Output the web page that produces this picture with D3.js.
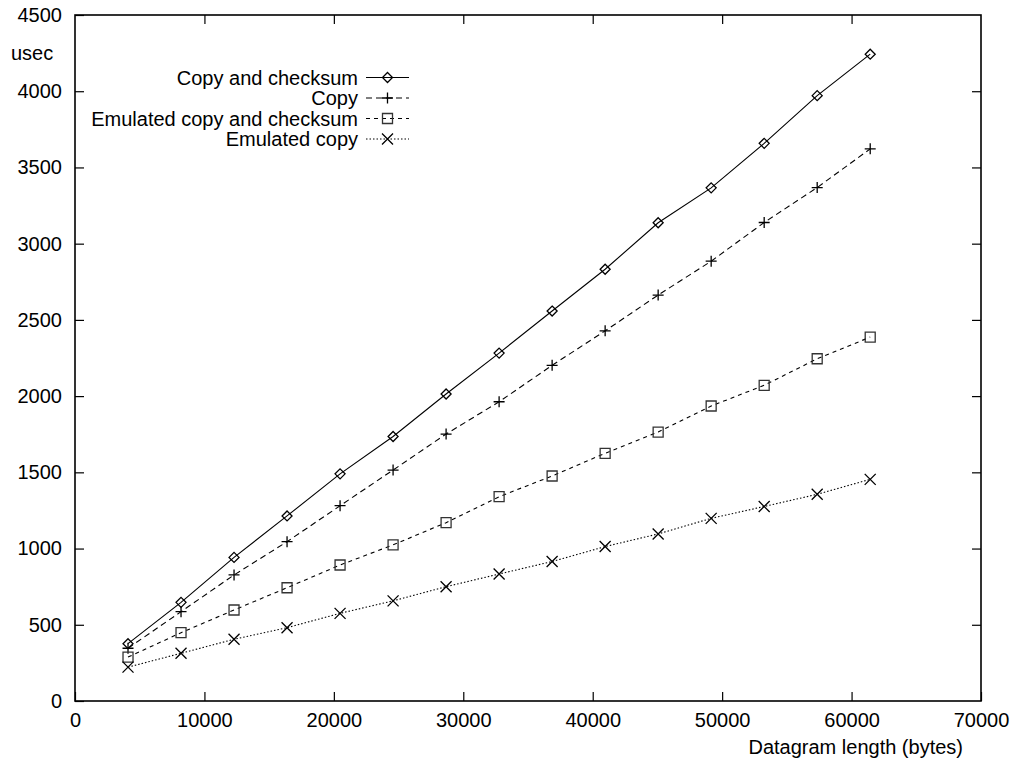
<!DOCTYPE html>
<html>
<head>
<meta charset="utf-8">
<script src="https://cdn.jsdelivr.net/npm/d3@7/dist/d3.min.js"></script>
<style>
  html, body { margin: 0; padding: 0; background: #fff; }
  svg { display: block; }
  text { font-family: "Liberation Sans", Arial, Helvetica, sans-serif; font-size: 20px; fill: #000; }
</style>
</head>
<body>
<svg id="chart" width="1011" height="762"></svg>
<script>
// Datagram sizes (bytes)
const lengths = [4096, 8192, 12288, 16384, 20480, 24576, 28672, 32768, 36864, 40960, 45056, 49152, 53248, 57344, 61440];

// Processing time (usec) per series
const copyAndChecksum = [376, 647, 942, 1214, 1490, 1735, 2014, 2282, 2558, 2832, 3137, 3366, 3658, 3971, 4243];
const copyOnly        = [346, 586, 827, 1045, 1281, 1515, 1751, 1963, 2202, 2428, 2663, 2885, 3139, 3368, 3622];
const emulatedCopyCk  = [288, 448, 597, 743, 892, 1024, 1170, 1340, 1476, 1625, 1764, 1935, 2071, 2245, 2387];
const emulatedCopy    = [222, 313, 405, 481, 575, 657, 750, 833, 915, 1013, 1096, 1198, 1276, 1356, 1454];

const seriesNames = ["Copy and checksum", "Copy", "Emulated copy and checksum", "Emulated copy"];

const xTicks = [0, 10000, 20000, 30000, 40000, 50000, 60000, 70000];
const yTicks = [0, 500, 1000, 1500, 2000, 2500, 3000, 3500, 4000, 4500];

const xLabel = "Datagram length (bytes)";
const yLabel = "usec";

// ---- layout ----
const plot = { left: 75, right: 981, top: 15, bottom: 701 };
const svg = d3.select("#chart");

const x = d3.scaleLinear().domain([0, 70000]).range([plot.left, plot.right]);
const y = d3.scaleLinear().domain([0, 4500]).range([plot.bottom, plot.top]);

const tickLen = 9;

// bottom axis with labels
const gx = svg.append("g").attr("transform", `translate(0,${plot.bottom})`)
  .call(d3.axisBottom(x).tickValues(xTicks).tickFormat(d3.format("d"))
    .tickSizeInner(-tickLen).tickSizeOuter(0).tickPadding(12));
// left axis with labels
const gy = svg.append("g").attr("transform", `translate(${plot.left},0)`)
  .call(d3.axisLeft(y).tickValues(yTicks).tickFormat(d3.format("d"))
    .tickSizeInner(-tickLen).tickSizeOuter(0).tickPadding(13));
// mirrored ticks on top and right
const gt = svg.append("g").attr("transform", `translate(0,${plot.top})`)
  .call(d3.axisTop(x).tickValues(xTicks.slice(1, -1)).tickFormat("")
    .tickSizeInner(-tickLen).tickSizeOuter(0));
const gr = svg.append("g").attr("transform", `translate(${plot.right},0)`)
  .call(d3.axisRight(y).tickValues(yTicks.slice(1, -1)).tickFormat("")
    .tickSizeInner(-tickLen).tickSizeOuter(0));

[gx, gy, gt, gr].forEach(g => {
  g.select(".domain").remove();
  g.selectAll(".tick line").attr("stroke", "#000").attr("stroke-width", 1.2);
  g.selectAll(".tick text").attr("font-size", null).attr("font-family", null).attr("fill", "#000");
});

// plot frame
svg.append("rect")
  .attr("x", plot.left).attr("y", plot.top)
  .attr("width", plot.right - plot.left).attr("height", plot.bottom - plot.top)
  .attr("fill", "none").attr("stroke", "#000").attr("stroke-width", 1.6);

// axis titles
svg.append("text").attr("x", 11).attr("y", 60).text(yLabel);
svg.append("text").attr("x", 963).attr("y", 754).attr("text-anchor", "end").text(xLabel);

// ---- series ----
const markerPath = {
  diamond: s => `M0,${-s}L${s},0L0,${s}L${-s},0Z`,
  plus:    s => `M${-s},0H${s}M0,${-s}V${s}`,
  square:  s => `M${-s},${-s}H${s}V${s}H${-s}Z`,
  cross:   s => `M${-s},${-s}L${s},${s}M${-s},${s}L${s},${-s}`
};

const series = [
  { name: seriesNames[0], values: copyAndChecksum, dash: null,     marker: "diamond", size: 5,   mstroke: "#000", lw: 1.1 },
  { name: seriesNames[1], values: copyOnly,        dash: "6,4",    marker: "plus",    size: 5.5, mstroke: "#000", lw: 1.1 },
  { name: seriesNames[2], values: emulatedCopyCk,  dash: "4,4",    marker: "square",  size: 5,   mstroke: "#333", lw: 1.1 },
  { name: seriesNames[3], values: emulatedCopy,    dash: "1.5,2",  marker: "cross",   size: 5.5, mstroke: "#000", lw: 1.1 }
];

const line = d3.line().x(d => x(d[0])).y(d => y(d[1]));

series.forEach(s => {
  const pts = lengths.map((L, i) => [L, s.values[i]]);
  svg.append("path")
    .datum(pts)
    .attr("d", line)
    .attr("fill", "none")
    .attr("stroke", "#000")
    .attr("stroke-width", s.lw)
    .attr("stroke-dasharray", s.dash);
  svg.append("g").selectAll("path")
    .data(pts)
    .join("path")
    .attr("transform", d => `translate(${x(d[0])},${y(d[1])})`)
    .attr("d", markerPath[s.marker](s.size))
    .attr("fill", "none")
    .attr("stroke", s.mstroke)
    .attr("stroke-width", 1.3);
});

// ---- legend ----
const legend = svg.append("g");
const legTextX = 358, legX0 = 366, legX1 = 409, legY0 = 77.5, legDy = 20.5;
series.forEach((s, i) => {
  const yy = legY0 + i * legDy;
  legend.append("text").attr("x", legTextX).attr("y", yy + 7)
    .attr("text-anchor", "end").text(s.name);
  legend.append("line")
    .attr("x1", legX0).attr("x2", legX1).attr("y1", yy).attr("y2", yy)
    .attr("stroke", "#000").attr("stroke-width", s.lw)
    .attr("stroke-dasharray", s.dash);
  legend.append("path")
    .attr("transform", `translate(${(legX0 + legX1) / 2},${yy})`)
    .attr("d", markerPath[s.marker](s.size))
    .attr("fill", "none").attr("stroke", s.mstroke).attr("stroke-width", 1.3);
});
</script>
</body>
</html>
